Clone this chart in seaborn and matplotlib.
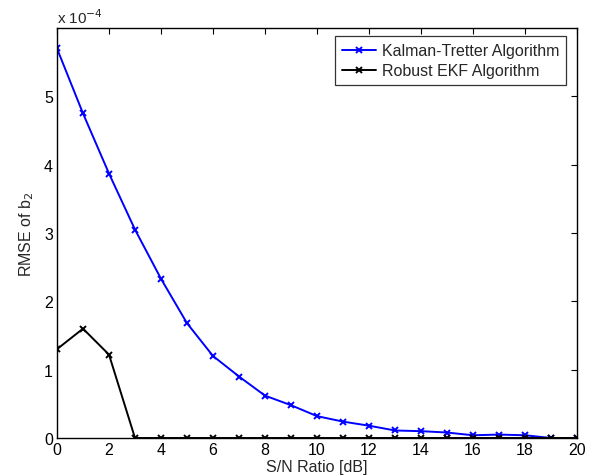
import numpy as np
import pandas as pd
import matplotlib
matplotlib.use("Agg")
import matplotlib.pyplot as plt
import seaborn as sns

snr_db = list(range(0, 21))
kalman_tretter = [5.70, 4.75, 3.87, 3.05, 2.33, 1.68, 1.20, 0.90, 0.62, 0.48,
                  0.32, 0.24, 0.18, 0.11, 0.10, 0.08, 0.04, 0.05, 0.04, 0.00, 0.00]
robust_ekf = [1.30, 1.60, 1.22, 0.00, 0.00, 0.00, 0.00, 0.00, 0.00, 0.00,
              0.00, 0.00, 0.00, 0.00, 0.00, 0.00, 0.00, 0.00, 0.00, 0.00, 0.00]
series_names = ["Kalman-Tretter Algorithm", "Robust EKF Algorithm"]
series_colors = ["#0000ff", "#000000"]
x_ticks = list(range(0, 21, 2))
y_ticks = [0, 1, 2, 3, 4, 5]

sns.set_style("white")
plt.rcParams['font.family'] = ['Liberation Sans', 'DejaVu Sans']
plt.rcParams['font.size'] = 11.5

fig = plt.figure(figsize=(5.92, 4.77), dpi=100)
ax = fig.add_axes([57 / 592, 1 - 439 / 477, (577 - 57) / 592, (439 - 29) / 477])

for name, vals, col in zip(series_names, [kalman_tretter, robust_ekf], series_colors):
    d = pd.DataFrame({"snr": snr_db, "rmse": [v * 1e-4 for v in vals]})
    sns.lineplot(data=d, x="snr", y="rmse", color=col, marker="x", markersize=5,
                 markeredgewidth=1.4, markeredgecolor=col, linewidth=1.4,
                 ax=ax, label=name)

ax.set_xlim(0, 20)
ax.set_ylim(0, 6e-4)
ax.set_xticks(x_ticks)
ax.set_xticklabels([str(t) for t in x_ticks])
ax.set_yticks([t * 1e-4 for t in y_ticks])
ax.set_yticklabels([str(t) for t in y_ticks])
ax.tick_params(direction="in", length=4, width=0.8, top=True, right=True,
               labelsize=11.5, colors="black", pad=3)
for s in ax.spines.values():
    s.set_visible(True)
    s.set_color("black")
    s.set_linewidth(1.0)
ax.set_xlabel("S/N Ratio [dB]", fontsize=11.5, labelpad=1)
ax.set_ylabel("RMSE of b$_2$", fontsize=11.5, labelpad=6)
ax.text(0, 1.006, r"x 10$^{-4}$", transform=ax.transAxes, fontsize=11,
        ha="left", va="bottom")

leg = ax.legend(loc="upper right", bbox_to_anchor=(0.979, 0.980), frameon=True,
                fancybox=False, edgecolor="black", fontsize=11.5,
                handlelength=2.1, handletextpad=0.35, borderpad=0.45,
                labelspacing=0.3, borderaxespad=0)
leg.get_frame().set_linewidth(0.9)

fig.savefig("out.png", dpi=100)
